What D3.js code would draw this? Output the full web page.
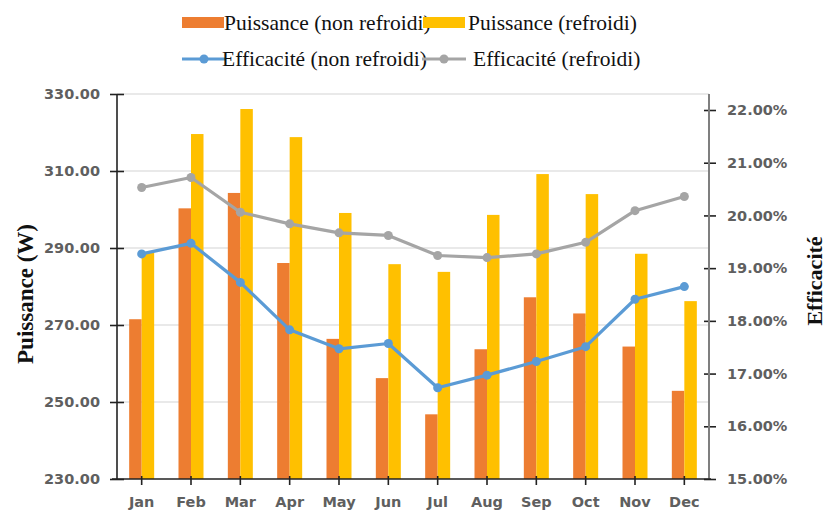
<!DOCTYPE html>
<html>
<head>
<meta charset="utf-8">
<script src="https://cdn.jsdelivr.net/npm/d3@7/dist/d3.min.js"></script>
<style>
  html, body { margin: 0; padding: 0; background: #fff; }
  svg { display: block; }
</style>
</head>
<body>
<svg id="chart" width="826" height="513"></svg>
<script>
const months = ["Jan","Feb","Mar","Apr","May","Jun","Jul","Aug","Sep","Oct","Nov","Dec"];
const powerNonCooled = [271.5, 300.3, 304.3, 286.1, 266.4, 256.2, 246.8, 263.7, 277.2, 273.0, 264.4, 252.9];
const powerCooled    = [288.8, 319.6, 326.1, 318.8, 299.1, 285.8, 283.8, 298.6, 309.2, 304.0, 288.5, 276.2];
const effNonCooled   = [19.27, 19.47, 18.73, 17.83, 17.47, 17.57, 16.73, 16.97, 17.23, 17.51, 18.41, 18.65];
const effCooled      = [20.53, 20.72, 20.06, 19.84, 19.67, 19.62, 19.24, 19.20, 19.27, 19.49, 20.09, 20.36];
const leftTicks  = [230, 250, 270, 290, 310, 330];
const rightTicks = [15, 16, 17, 18, 19, 20, 21, 22];
const seriesNames = ["Puissance (non refroidi)", "Puissance (refroidi)", "Efficacité (non refroidi)", "Efficacité (refroidi)"];
const colors = ["#ED7D31", "#FFC000", "#5B9BD5", "#A5A5A5"];

const svg = d3.select("#chart");
const pLeft = 117, pRight = 709, pTop = 94, pBottom = 479;

const x = d3.scaleBand().domain(months).range([pLeft, pRight]).padding(0);
const xInner = d3.scaleBand().domain([0, 1]).range([0, 25]);
const yL = d3.scaleLinear().domain([230, 330]).range([pBottom, pTop]);
const yR = d3.scaleLinear().domain([15, 22]).range([pBottom, 110]);

// gridlines
svg.append("g").selectAll("line").data(leftTicks.slice(1)).join("line")
  .attr("x1", pLeft).attr("x2", pRight)
  .attr("y1", d => yL(d)).attr("y2", d => yL(d))
  .attr("stroke", "#e2e2e2").attr("stroke-width", 1.5);

// bars
const barG = svg.append("g");
[powerNonCooled, powerCooled].forEach((vals, si) => {
  barG.append("g").selectAll("rect").data(vals).join("rect")
    .attr("x", (d, i) => x(months[i]) + x.bandwidth() / 2 - 12.5 + xInner(si))
    .attr("width", xInner.bandwidth())
    .attr("y", d => yL(d))
    .attr("height", d => pBottom - yL(d))
    .attr("fill", colors[si]);
});

// lines
const cx = m => x(m) + x.bandwidth() / 2;
[effNonCooled, effCooled].forEach((vals, si) => {
  const line = d3.line().x((d, i) => cx(months[i])).y(d => yR(d));
  svg.append("path").datum(vals).attr("d", line)
    .attr("fill", "none").attr("stroke", colors[2 + si]).attr("stroke-width", 3.2)
    .attr("stroke-linejoin", "round");
  svg.append("g").selectAll("circle").data(vals).join("circle")
    .attr("cx", (d, i) => cx(months[i])).attr("cy", d => yR(d)).attr("r", 4.5)
    .attr("fill", colors[2 + si]);
});

const tickFont = "'DejaVu Sans', Verdana, sans-serif";

// left axis
const gL = svg.append("g").attr("transform", `translate(${pLeft},0)`)
  .call(d3.axisLeft(yL).tickValues(leftTicks).tickFormat(d3.format(".2f")).tickSize(7).tickPadding(10));
gL.select(".domain").remove();
gL.append("line").attr("y1", pTop).attr("y2", pBottom).attr("stroke", "#222").attr("stroke-width", 1.6);
gL.selectAll(".tick line").attr("stroke", "#222").attr("stroke-width", 1.6).attr("x2", 7).attr("x1", -7);
gL.selectAll(".tick text").attr("fill", "#5f5f5f").attr("font-family", tickFont)
  .attr("font-weight", "bold").attr("font-size", 14.5).attr("x", -17);

// right axis
const gR = svg.append("g").attr("transform", `translate(${pRight},0)`)
  .call(d3.axisRight(yR).tickValues(rightTicks).tickFormat(d => d3.format(".2f")(d) + "%").tickSize(7).tickPadding(10));
gR.select(".domain").remove();
gR.append("line").attr("y1", pTop).attr("y2", pBottom).attr("stroke", "#7f7f7f").attr("stroke-width", 2);
gR.selectAll(".tick line").attr("stroke", "#222").attr("stroke-width", 1.6).attr("x1", -5).attr("x2", 7);
gR.selectAll(".tick text").attr("fill", "#5f5f5f").attr("font-family", tickFont)
  .attr("font-weight", "bold").attr("font-size", 14.5).attr("x", 18);

// x axis
const gX = svg.append("g").attr("transform", `translate(0,${pBottom})`)
  .call(d3.axisBottom(x).tickSize(6).tickPadding(12));
gX.select(".domain").remove();
gX.append("line").attr("x1", pLeft - 5).attr("x2", pRight + 2).attr("stroke", "#222").attr("stroke-width", 1.6);
gX.selectAll(".tick line").attr("stroke", "#222").attr("stroke-width", 1.6).attr("y1", -3).attr("y2", 6);
gX.selectAll(".tick text").attr("fill", "#5f5f5f").attr("font-family", tickFont)
  .attr("font-weight", "bold").attr("font-size", 14.5);

// axis titles
const serif = "'Liberation Serif', 'Times New Roman', serif";
svg.append("text").attr("transform", `translate(33,294) rotate(-90)`)
  .attr("text-anchor", "middle").attr("font-family", serif).attr("font-weight", "bold")
  .attr("font-size", 23).attr("fill", "#111").text("Puissance (W)");
svg.append("text").attr("transform", `translate(822,281) rotate(-90)`)
  .attr("text-anchor", "middle").attr("font-family", serif).attr("font-weight", "bold")
  .attr("font-size", 22).attr("fill", "#111").text("Efficacité");

// legend
const legend = [
  { name: seriesNames[0], color: colors[0], type: "bar", sx: 182, tx: 224, y: 22 },
  { name: seriesNames[1], color: colors[1], type: "bar", sx: 423, tx: 468, y: 22 },
  { name: seriesNames[2], color: colors[2], type: "line", sx: 182, tx: 222, y: 58 },
  { name: seriesNames[3], color: colors[3], type: "line", sx: 422, tx: 473, y: 58 }
];
const lg = svg.append("g");
legend.forEach(l => {
  if (l.type === "bar") {
    lg.append("rect").attr("x", l.sx).attr("y", l.y - 5).attr("width", 42).attr("height", 11).attr("fill", l.color);
  } else {
    lg.append("line").attr("x1", l.sx).attr("x2", l.sx + 44).attr("y1", l.y + 1).attr("y2", l.y + 1)
      .attr("stroke", l.color).attr("stroke-width", 3.2);
    lg.append("circle").attr("cx", l.sx + 22).attr("cy", l.y + 1).attr("r", 4.5).attr("fill", l.color);
  }
  lg.append("text").attr("x", l.tx).attr("y", l.y).attr("dy", "0.35em")
    .attr("font-family", serif).attr("font-size", 21.5).attr("fill", "#111").text(l.name);
});
</script>
</body>
</html>
